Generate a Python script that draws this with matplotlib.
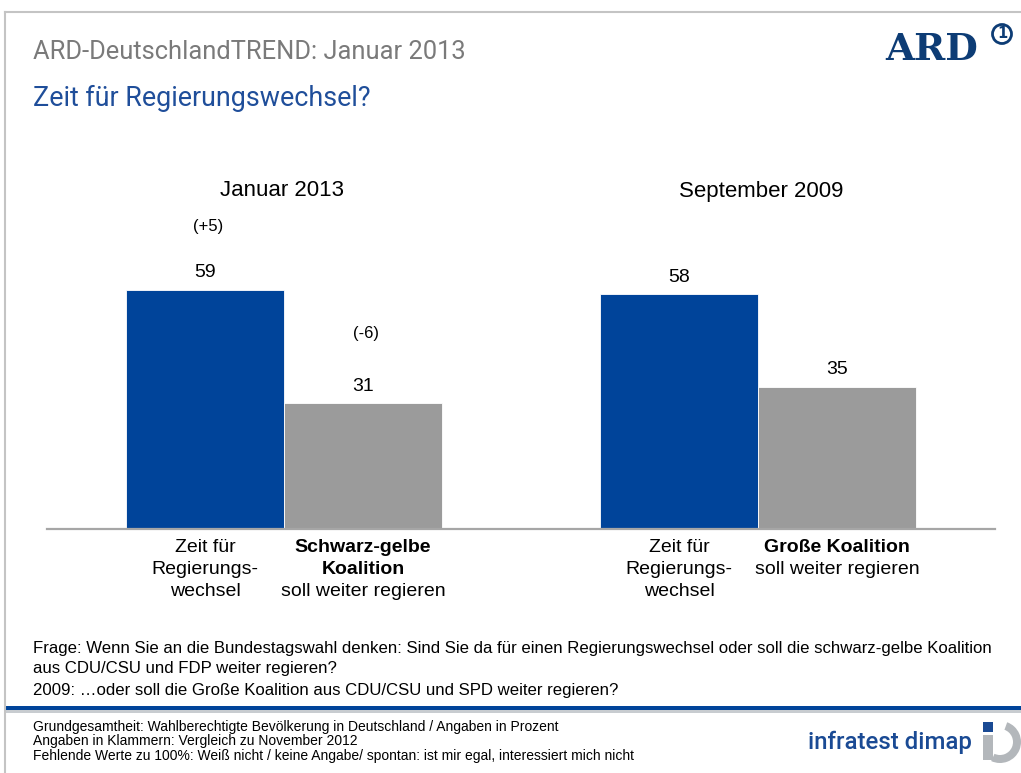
import matplotlib
matplotlib.use('Agg')
import matplotlib.pyplot as plt
from matplotlib import font_manager
from matplotlib.lines import Line2D
from matplotlib.patches import Rectangle, Wedge, Circle
from matplotlib.transforms import IdentityTransform

W, H = 1021, 773

# chart data
GROUP_TITLES = ['Januar 2013', 'September 2009']
VALUES = [59, 31, 58, 35]
CHANGES = ['(+5)', '(-6)', None, None]
CATEGORY_LINES = [
    [('Zeit für', 'normal'), ('Regierungs-', 'normal'), ('wechsel', 'normal')],
    [('Schwarz-gelbe', 'bold'), ('Koalition', 'bold'), ('soll weiter regieren', 'normal')],
    [('Zeit für', 'normal'), ('Regierungs-', 'normal'), ('wechsel', 'normal')],
    [('Große Koalition', 'bold'), ('soll weiter regieren', 'normal')],
]
QUESTION = [
    'Frage: Wenn Sie an die Bundestagswahl denken: Sind Sie da für einen Regierungswechsel oder soll die schwarz-gelbe Koalition',
    'aus CDU/CSU und FDP weiter regieren?',
    '2009: \u2026oder soll die Große Koalition aus CDU/CSU und SPD weiter regieren?',
]
FOOTNOTES = [
    'Grundgesamtheit: Wahlberechtigte Bevölkerung in Deutschland / Angaben in Prozent',
    'Angaben in Klammern: Vergleich zu November 2012',
    'Fehlende Werte zu 100%: Weiß nicht / keine Angabe/ spontan: ist mir egal, interessiert mich nicht',
]

# layout / style
X_POS = [0, 1, 3, 4]
BAR_COLORS = ['#00449a', '#9b9b9b', '#00449a', '#9b9b9b']
CHANGE_OFFSETS = [63, 70, 0, 0]  # pixels above bar top
BLUE = '#00449a'
LOGO_BLUE = '#0d3c75'

installed = {f.name for f in font_manager.fontManager.ttflist}
NARROW = 'Liberation Sans Narrow' if 'Liberation Sans Narrow' in installed else 'Roboto'
plt.rcParams['font.family'] = ['Liberation Sans', 'DejaVu Sans']


def fx(px):
    return px / W


def fy(py):
    return 1 - py / H


fig = plt.figure(figsize=(W / 100, H / 100), dpi=100)
fig.patch.set_facecolor('white')
ident = IdentityTransform()

# slide frame
fig.add_artist(Line2D([fx(5), 1], [fy(12), fy(12)], color='#c4c4c4', lw=1.5))
fig.add_artist(Line2D([fx(5), fx(5)], [fy(12), 0], color='#c4c4c4', lw=1.5))

# header
fig.text(fx(33), fy(52), 'ARD-DeutschlandTREND: Januar 2013', family=NARROW,
         fontsize=18.4, color='#7a7a7a', va='center', ha='left')
fig.text(fx(33), fy(98), 'Zeit für Regierungswechsel?', family=NARROW,
         fontsize=19.4, color='#1f4e9a', va='center', ha='left')
fig.text(fx(885), fy(49), 'ARD', family='DejaVu Serif', weight='bold',
         fontsize=27, color=LOGO_BLUE, va='center', ha='left')
fig.add_artist(Circle((1002, H - 34), 9.5, transform=ident, facecolor='none',
                      edgecolor=LOGO_BLUE, lw=2))
fig.text(fx(1002.5), fy(34), '1', family='DejaVu Sans', weight='bold',
         fontsize=10.5, color=LOGO_BLUE, va='center', ha='center')

# bar chart
base_py = 528.5
top_py = 150
px_per_unit = 4.043
ax = fig.add_axes([fx(47), fy(base_py), fx(995) - fx(47), (base_py - top_py) / H])
ax.bar(X_POS, VALUES, width=1.0, color=BAR_COLORS, edgecolor='white', linewidth=0.6, zorder=2)
ax.set_xlim(-1, 5)
ax.set_ylim(0, (base_py - top_py) / px_per_unit)
for side in ['left', 'right', 'top']:
    ax.spines[side].set_visible(False)
ax.spines['bottom'].set_color('#a6a6a6')
ax.spines['bottom'].set_linewidth(1.6)
ax.set_xticks([])
ax.set_yticks([])

for x, v, ch, off in zip(X_POS, VALUES, CHANGES, CHANGE_OFFSETS):
    ax.annotate(str(v), (x, v), xytext=(0, 17), textcoords='offset pixels',
                ha='center', va='center', fontsize=14)
    if ch:
        ax.annotate(ch, (x + 0.02, v), xytext=(0, off), textcoords='offset pixels',
                    ha='center', va='center', fontsize=12)

for i, title in enumerate(GROUP_TITLES):
    gx = (X_POS[2 * i] + X_POS[2 * i + 1]) / 2
    ax.annotate(title, (gx, 0), xytext=(-2 + 5 * i, base_py - 191), textcoords='offset pixels',
                ha='center', va='center', fontsize=16)

line_py = [547, 569, 591]
for x, lines in zip(X_POS, CATEGORY_LINES):
    for (txt, weight), py in zip(lines, line_py):
        ax.annotate(txt, (x, 0), xytext=(0, base_py - py), textcoords='offset pixels',
                    ha='center', va='center', fontsize=14, weight=weight,
                    annotation_clip=False)

# question text
for txt, py in zip(QUESTION, [648, 669, 690]):
    fig.text(fx(33), fy(py), txt, fontsize=12.1, va='center', ha='left')

# footer band
fig.add_artist(Rectangle((fx(5), fy(710)), 1 - fx(5), 4 / H, transform=fig.transFigure,
                         color=BLUE, lw=0))
fig.add_artist(Rectangle((fx(5), fy(713)), 1 - fx(5), 3 / H, transform=fig.transFigure,
                         color='#c8ccd0', lw=0))
for txt, py in zip(FOOTNOTES, [727, 741, 756]):
    fig.text(fx(33), fy(py), txt, fontsize=10, va='center', ha='left')

fig.text(fx(808), fy(742), 'infratest dimap', family=NARROW, weight='medium',
         fontsize=17.3, color='#1a4a94', va='center', ha='left')
fig.add_artist(Rectangle((983, H - 732), 10, 10, transform=ident, color='#1a4a94', lw=0))
fig.add_artist(Rectangle((983, H - 760), 10, 25, transform=ident, color='#b3b7bb', lw=0))
fig.add_artist(Wedge((1000, H - 742), 21, -115, 70, width=8, transform=ident,
                     color='#b3b7bb', lw=0))

fig.savefig('out.png', dpi=100)
